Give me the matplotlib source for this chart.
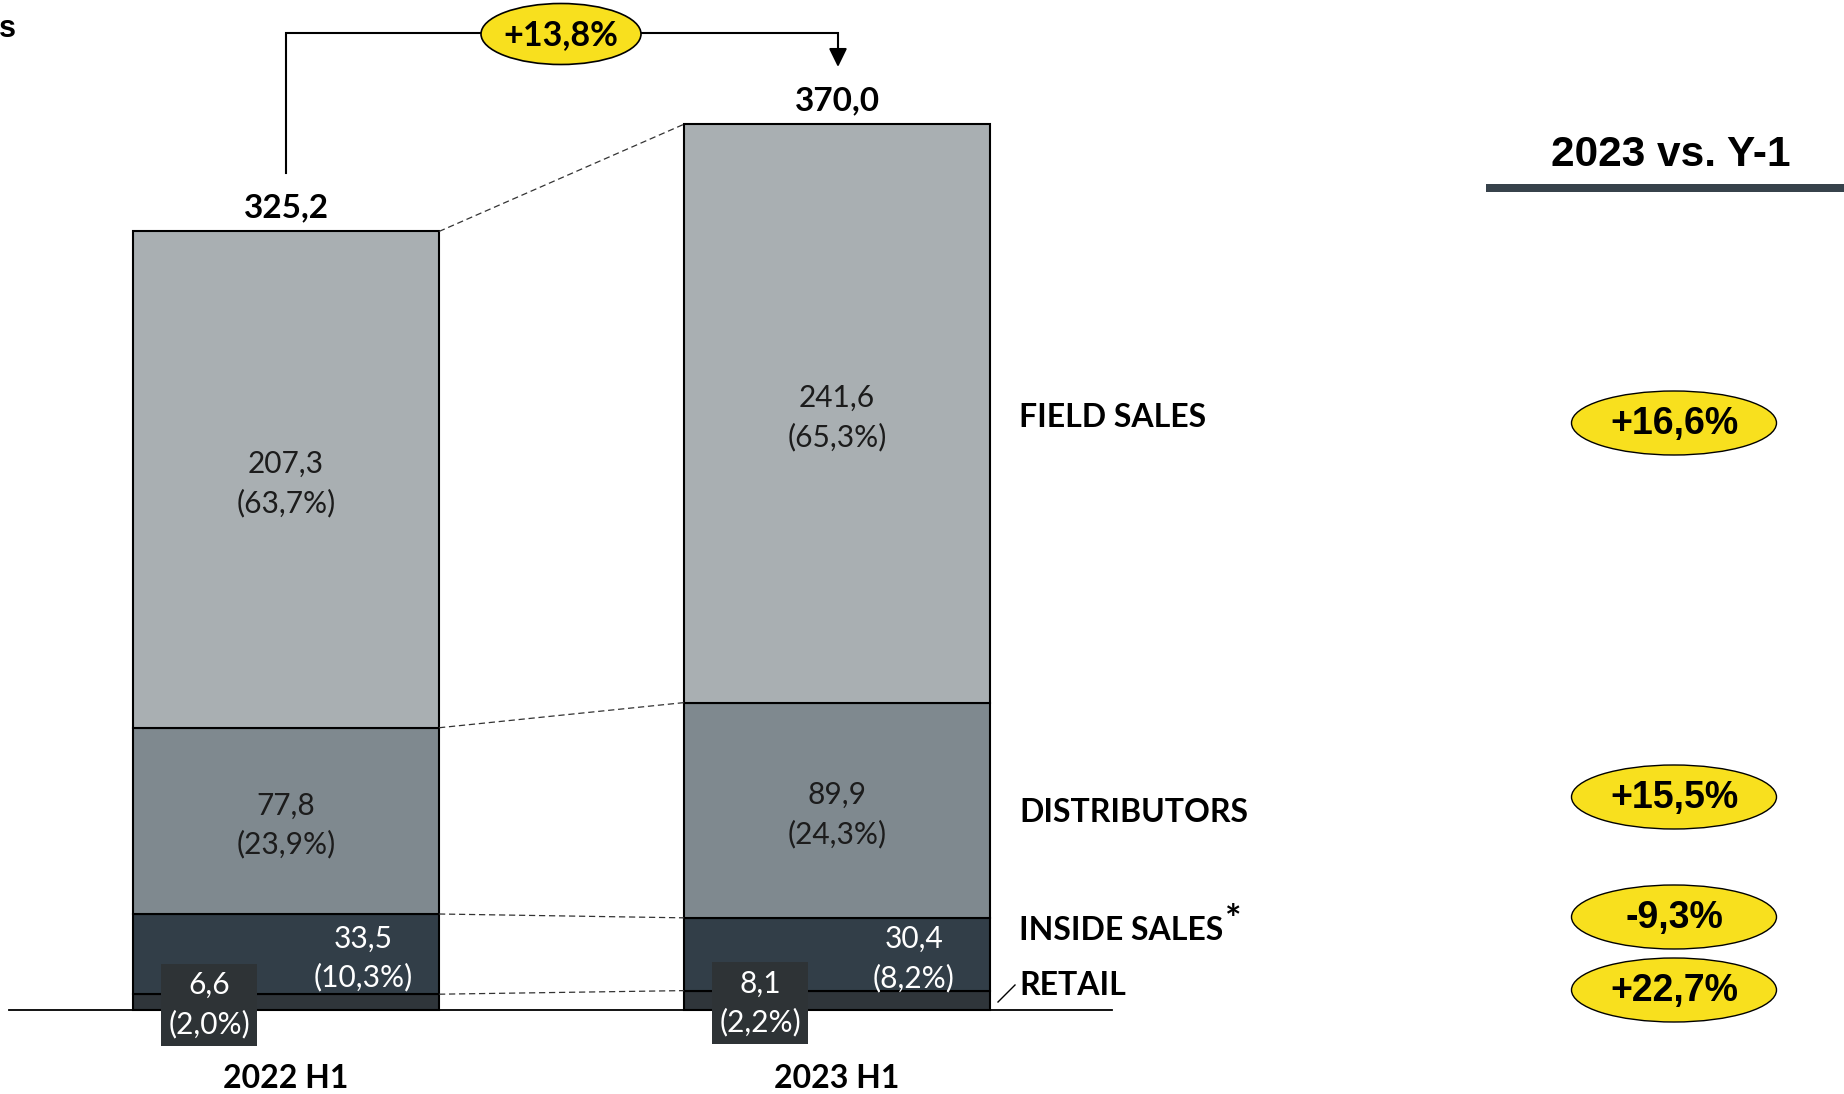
import numpy as np
import matplotlib.pyplot as plt
from matplotlib.patches import Ellipse, Rectangle

plt.rcParams['font.family'] = ['Lato', 'DejaVu Sans']

periods = ['2022 H1', '2023 H1']
channels = ['RETAIL', 'INSIDE SALES', 'DISTRIBUTORS', 'FIELD SALES']
sales_2022 = [6.6, 33.5, 77.8, 207.3]
sales_2023 = [8.1, 30.4, 89.9, 241.6]
totals = [325.2, 370.0]
total_growth = '+13,8%'
channel_growth = ['+22,7%', '-9,3%', '+15,5%', '+16,6%']

colors = ['#2f353a', '#323e48', '#7f898f', '#a9afb2']
yellow = '#f8e01e'

W, H = 1844, 1094
BASE = 1010          # pixel row of the zero line
SCALE = 2.394        # pixels per unit
bar_x = [286, 837]
bar_w = 306


def fmt(v):
    return f'{v:.1f}'.replace('.', ',')


fig = plt.figure(figsize=(W / 100, H / 100), dpi=100)
ax = fig.add_axes([0, 0, 1, 1])
ax.set_xlim(0, W)
ax.set_ylim(-(H - BASE) / SCALE, BASE / SCALE)
ax.axis('off')

# overlay in pixel units for the decorations
lay = fig.add_axes([0, 0, 1, 1])
lay.set_xlim(0, W)
lay.set_ylim(H, 0)
lay.axis('off')
lay.patch.set_alpha(0)

seg_font = dict(fontsize=21.5, linespacing=1.45, ha='center', va='center',
                textcoords='offset points')

data = np.array([sales_2022, sales_2023])  # period x channel
bottoms = np.zeros(2)
for i, name in enumerate(channels):
    vals = data[:, i]
    ax.bar(bar_x, vals, width=bar_w, bottom=bottoms, color=colors[i],
           edgecolor='black', linewidth=1.5, zorder=1)
    for j in range(2):
        v = vals[j]
        mid = bottoms[j] + v / 2
        label = f'{fmt(v)}\n({fmt(100 * v / totals[j])}%)'
        if i >= 2:
            ax.annotate(label, (bar_x[j], mid), xytext=(0, -3), color='#1c1c1c',
                        zorder=4, **seg_font)
        elif i == 1:
            ax.annotate(label, (bar_x[j] + 77, mid), xytext=(0, -3),
                        color='white', zorder=4, **seg_font)
        else:
            ax.annotate(label, (bar_x[j] - 77, mid), xytext=(0, -2),
                        color='white', zorder=5, **seg_font,
                        bbox=dict(boxstyle='square,pad=0.24', fc='#2e3336', ec='none'))
    bottoms = bottoms + vals

# dashed connectors between the segment tops
cum = np.cumsum(data, axis=1)
for k in range(len(channels)):
    ax.plot([bar_x[0] + bar_w / 2, bar_x[1] - bar_w / 2], [cum[0, k], cum[1, k]],
            color='#333333', lw=0.9, dashes=(5, 3), zorder=2)

# zero line
ax.plot([9, 1112], [0, 0], color='black', lw=1.3, zorder=2)

# totals and period labels
for j in range(2):
    ax.annotate(fmt(totals[j]), (bar_x[j], totals[j]), xytext=(0, 10),
                textcoords='offset points', ha='center', va='baseline',
                fontsize=24, fontweight='bold')
    lay.text(bar_x[j], 1088, periods[j], ha='center', va='baseline',
             fontsize=23, fontweight='bold')

# total growth arrow
lay.plot([286, 286, 838, 838], [173, 33, 33, 50], color='black', lw=1.5,
         solid_joinstyle='miter')
lay.annotate('', xy=(838, 67), xytext=(838, 48),
             arrowprops=dict(arrowstyle='-|>,head_length=0.45,head_width=0.22',
                             color='black', lw=1.5, mutation_scale=25,
                             shrinkA=0, shrinkB=0))
lay.add_patch(Ellipse((561, 34), 160, 61, fc=yellow, ec='black', lw=1.2, zorder=3))
lay.text(561, 35, total_growth, ha='center', va='center', fontsize=24.5,
         fontweight='bold', zorder=4)

# channel names on the right of the bars
name_base = [995, 940, 822, 427]
name_txt = []
for i, name in enumerate(channels):
    name_txt.append(lay.text(1019, name_base[i], name, ha='left', va='baseline',
                             fontsize=23, fontweight='bold'))
lay.annotate('*', xy=(1, 1), xycoords=name_txt[1], xytext=(1, 9),
             textcoords='offset points', ha='left', va='top',
             fontsize=28, fontweight='bold')
lay.plot([998, 1015], [1002, 985], color='black', lw=1.0)

# year-on-year column
lay.text(1671, 166, '2023 vs. Y-1', ha='center', va='baseline', fontsize=30.5,
         fontweight='bold', family='Liberation Sans')
lay.add_patch(Rectangle((1486, 184), W - 1486, 8, fc='#37424b', ec='none'))
badge_y = [990, 917, 797, 423]
for i, g in enumerate(channel_growth):
    lay.add_patch(Ellipse((1674, badge_y[i]), 205, 64, fc=yellow, ec='black',
                          lw=1.0, zorder=3))
    lay.text(1674, badge_y[i] + 1, g, ha='center', va='center', fontsize=27,
             fontweight='bold', family='Liberation Sans', zorder=4)

lay.text(-1, 37, 's', ha='left', va='baseline', fontsize=22,
         fontweight='bold', family='Liberation Sans')

fig.savefig('out.png', dpi=100)
